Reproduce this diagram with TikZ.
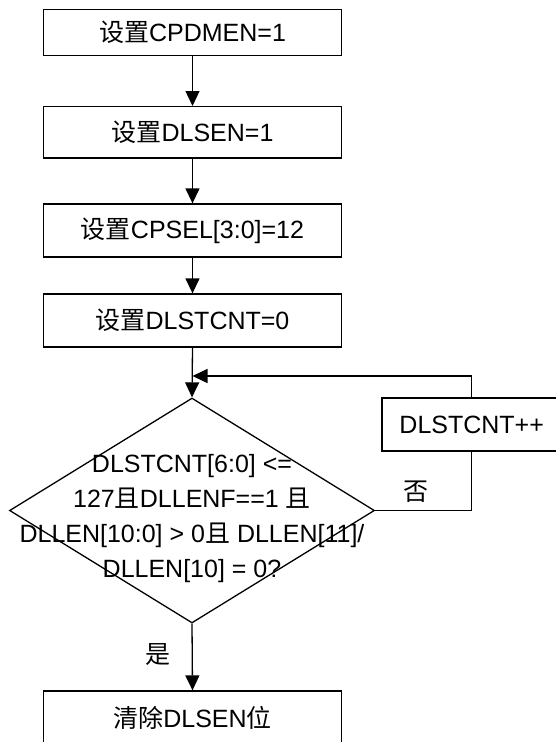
\documentclass[tikz,border=0pt]{standalone}
\usepackage{fontspec}
\setmainfont{Liberation Sans}
\newfontfamily\cjk{Noto Sans CJK SC}
\usetikzlibrary{shapes.geometric,arrows.meta}
\newcommand{\zh}[1]{{\cjk #1}}
\begin{document}
\begin{tikzpicture}[x=1pt,y=-1pt,
  every node/.style={font=\fontsize{25}{35}\selectfont},
  box/.style={draw, line width=1.3pt, minimum width=298.4pt, inner sep=0pt},
  arr/.style={line width=1.3pt, -{Triangle[length=15pt,width=14pt]}},
  ln/.style={line width=1.3pt}]
\useasboundingbox (0,0) rectangle (556,742);
\node[box, minimum height=46.4pt] (b1) at (192.5,32.5) {\zh{设置}CPDMEN=1};
\node[box, minimum height=51.3pt] (b2) at (192.5,132.3) {\zh{设置}DLSEN=1};
\node[box, minimum height=53pt] (b3) at (192.5,230.5) {\zh{设置}CPSEL[3:0]=12};
\node[box, minimum height=53pt] (b4) at (192.5,320.5) {\zh{设置}DLSTCNT=0};
\node[draw, diamond, line width=1.3pt, inner sep=0pt, minimum width=365pt, minimum height=225pt] (dia) at (192,510.5) {};
\node[align=center, inner sep=0pt] (dtext) at (192,519) {DLSTCNT[6:0] <=\\127\zh{且}DLLENF==1 \zh{且}\\DLLEN[10:0] > 0\zh{且} DLLEN[11]/\\DLLEN[10] = 0?};
\node[box, minimum width=179.4pt, minimum height=53pt] (inc) at (471.7,424.5) {DLSTCNT++};
\node[box, minimum height=53pt] (b5) at (192.5,717.5) {\zh{清除}DLSEN\zh{位}};
\coordinate (j) at (192.5,376);
\draw[arr] (b1.south) -- (b2.north);
\draw[arr] (b2.south) -- (b3.north);
\draw[arr] (b3.south) -- (b4.north);
\draw[arr] (b4.south) -- (dia.north);
\draw[arr] (dia.south) -- (b5.north);
\draw[ln] (dia.east) -| (inc.south);
\draw[arr] (inc.north) |- (j);
\node (no) at (416,492) {\zh{否}};
\node (yes) at (158,655) {\zh{是}};
\end{tikzpicture}
\end{document}
